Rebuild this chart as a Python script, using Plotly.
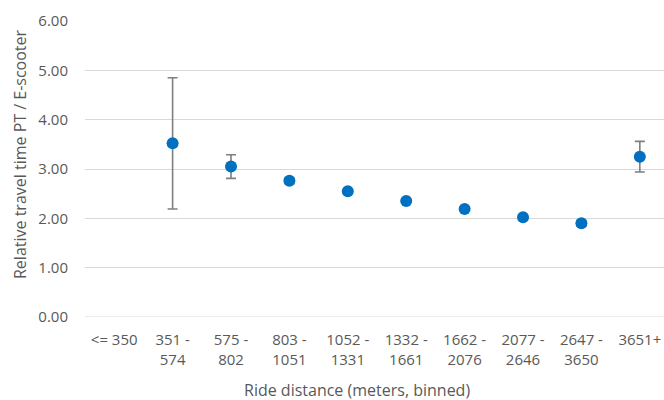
import plotly.graph_objects as go

categories = ["<= 350", "351 -<br>574", "575 -<br>802", "803 -<br>1051", "1052 -<br>1331",
              "1332 -<br>1661", "1662 -<br>2076", "2077 -<br>2646", "2647 -<br>3650", "3651+"]
values = [None, 3.52, 3.05, 2.76, 2.55, 2.35, 2.19, 2.02, 1.90, 3.25]
errors = [None, 1.33, 0.24, 0.06, 0.03, 0.03, 0.03, 0.03, 0.06, 0.31]
y_ticks = [0, 1, 2, 3, 4, 5, 6]
y_tick_labels = ["0.00", "1.00", "2.00", "3.00", "4.00", "5.00", "6.00"]
x_title = "Ride distance (meters, binned)"
y_title = "Relative travel time PT / E-scooter"

font_family = "Open Sans, Noto Sans, Liberation Sans, sans-serif"
txt = "#595959"

fig = go.Figure(go.Scatter(
    x=list(range(len(categories))), y=values, mode="markers",
    marker=dict(size=12, color="#0070C0"),
    error_y=dict(type="data", array=errors, visible=True, color="#7f7f7f", thickness=1.6, width=5),
))

fig.update_layout(
    width=664, height=400,
    margin=dict(l=85, r=0, t=21, b=83),
    paper_bgcolor="white", plot_bgcolor="white",
    showlegend=False,
    font=dict(family=font_family, color=txt, size=15),
    xaxis=dict(
        range=[-0.5, 9.414], tickmode="array", tickvals=list(range(len(categories))),
        ticktext=categories, showgrid=False, zeroline=False, showline=False,
        tickfont=dict(size=15, color=txt), ticks="", ticklabelstandoff=12,
        automargin=False,
    ),
    yaxis=dict(
        range=[0, 6], tickmode="array", tickvals=y_ticks, ticktext=y_tick_labels,
        showgrid=True, gridcolor="#d9d9d9", gridwidth=1, zeroline=False, showline=False,
        tickfont=dict(size=15, color=txt), ticks="", ticklabelstandoff=16,
        automargin=False,
    ),
    annotations=[
        dict(text=x_title, xref="paper", yref="paper", x=(357 - 85) / 579, y=-(390 - 317) / 296,
             xanchor="center", yanchor="middle", showarrow=False, font=dict(size=16, color=txt)),
        dict(text=y_title, xref="paper", yref="paper", x=-(85 - 20) / 579, y=(317 - 154) / 296,
             xanchor="center", yanchor="middle", textangle=-90, showarrow=False,
             font=dict(size=16, color=txt)),
    ],
)
fig.add_hline(y=0, line=dict(color="#d9d9d9", width=1), layer="below")

fig.write_html("out.html", config={"displayModeBar": False},
               post_script="document.body.style.margin='0';document.body.style.overflow='hidden';")
